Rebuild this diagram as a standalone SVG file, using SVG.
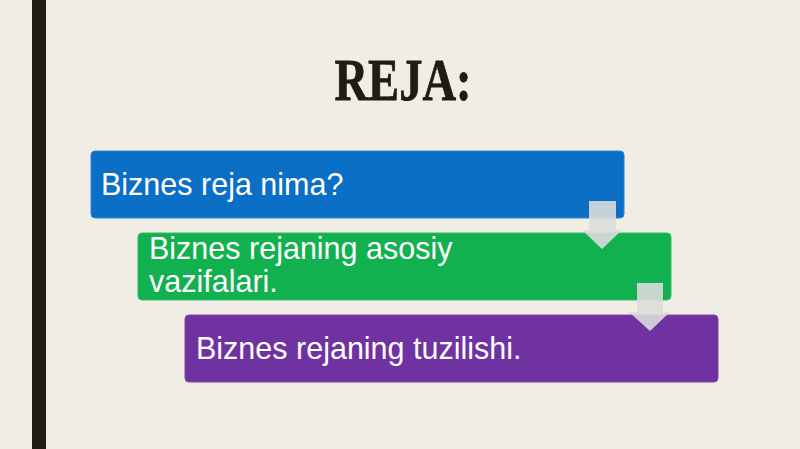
<svg xmlns="http://www.w3.org/2000/svg" width="800" height="449" viewBox="0 0 800 449">
<style>
.box{stroke-width:1}
.lbl{font-family:"Liberation Sans",Arial,sans-serif;font-size:30.5px;fill:#ffffff}
.arr{fill:#dcdcdc;fill-opacity:0.9}
</style>
<rect x="0" y="0" width="800" height="449" fill="#f0ede4"/>
<rect x="32" y="0" width="14" height="449" fill="#1f1c12"/>
<text x="403" y="100" text-anchor="middle" font-family="'Liberation Serif','Times New Roman',serif" font-weight="bold" font-size="60" fill="#1f1c12" stroke="#1f1c12" stroke-width="0.8" textLength="137" lengthAdjust="spacingAndGlyphs">REJA:</text>
<g id="node1">
<rect class="box" x="91" y="151" width="533" height="67" rx="4" fill="#0c6fc6" stroke="#2a86d6"/>
<text class="lbl" x="101" y="195">Biznes reja nima?</text>
</g>
<g id="node2">
<rect class="box" x="138" y="233" width="533" height="67" rx="4" fill="#12b14f" stroke="#30bd64"/>
<text class="lbl" x="149" y="259">Biznes rejaning asosiy</text>
<text class="lbl" x="149" y="292">vazifalari.</text>
</g>
<g id="node3">
<rect class="box" x="185" y="315" width="533" height="67" rx="4" fill="#7031a1" stroke="#8245b0"/>
<text class="lbl" x="196" y="359">Biznes rejaning tuzilishi.</text>
</g>
<g id="connectors">
<polygon class="arr" points="589,201 616,201 616,230 622,230 602,249 582,230 589,230"/>
<polygon class="arr" points="637,283 663,283 663,312 670,312 650,331 629,312 637,312"/>
</g>
</svg>
